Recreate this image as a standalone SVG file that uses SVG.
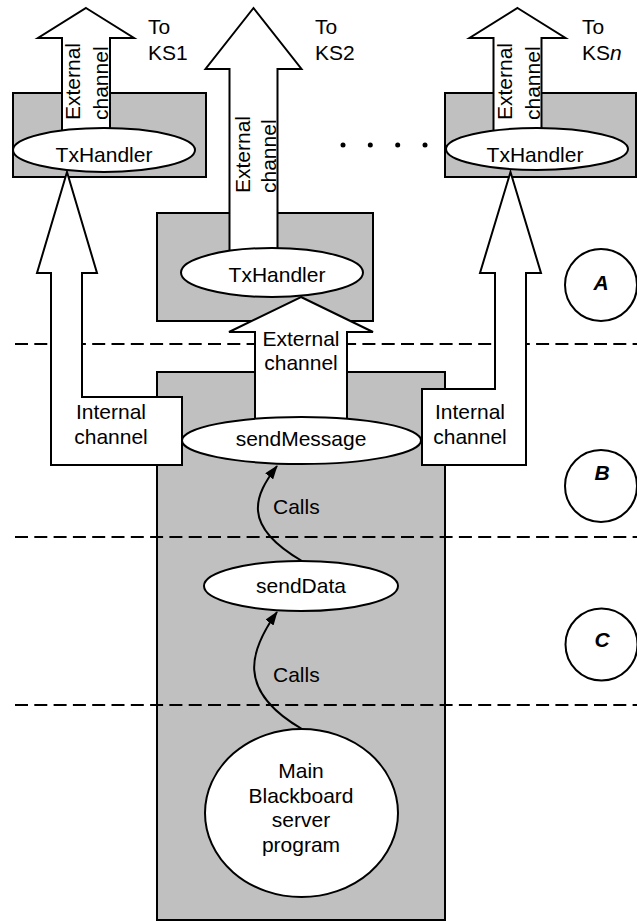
<svg xmlns="http://www.w3.org/2000/svg" width="637" height="922" viewBox="0 0 637 922">
<defs>
<style>
.host{fill:#c0c0c0;stroke:#000;stroke-width:2}
.proc{fill:#fff;stroke:#000;stroke-width:2}
.fat{fill:#fff;stroke:#000;stroke-width:2;stroke-linejoin:miter}
.sep{stroke:#000;stroke-width:2;stroke-dasharray:13 6.3;fill:none}
.call{fill:none;stroke:#000;stroke-width:2;marker-end:url(#ah)}
.zone{fill:#fff;stroke:#000;stroke-width:2}
text{font-family:"Liberation Sans",Arial,sans-serif;font-size:21px;fill:#000}
.c{text-anchor:middle}
.lbl{font-weight:bold;font-style:italic;text-anchor:middle}
</style>
<marker id="ah" viewBox="0 0 14 10" refX="13" refY="5" markerWidth="14" markerHeight="10" markerUnits="userSpaceOnUse" orient="auto"><path d="M0,0 L14,5 L0,10 z" fill="#000"/></marker>
</defs>
<rect width="637" height="922" fill="#fff"/>

<g id="bb-server-host"><rect class="host" x="157" y="372" width="288" height="548"/></g>
<g id="ks1-host"><rect class="host" x="13" y="93" width="193" height="84"/></g>
<g id="ks2-host"><rect class="host" x="157" y="213" width="216" height="108"/></g>
<g id="ksn-host"><rect class="host" x="445" y="93" width="191" height="84"/></g>

<g id="layer-separators">
<line class="sep" x1="15" y1="344" x2="637" y2="344"/>
<line class="sep" x1="15" y1="537" x2="637" y2="537"/>
<line class="sep" x1="15" y1="705" x2="637" y2="705"/>
</g>

<g id="connectors">
<g id="ext-ks1">
<polygon class="fat" points="86,8 134,38 110,38 110,140 62,140 62,38 38,38"/>
<text transform="translate(80,120) rotate(-90)">External</text>
<text transform="translate(108,120) rotate(-90)">channel</text>
</g>
<g id="ext-ks2">
<polygon class="fat" points="253.5,8 301.5,69 277.5,69 277.5,262 229.5,262 229.5,69 205.5,69"/>
<text transform="translate(250,193) rotate(-90)">External</text>
<text transform="translate(276,193) rotate(-90)">channel</text>
</g>
<g id="ext-ksn">
<polygon class="fat" points="517.5,8 565.5,38 541.5,38 541.5,140 493.5,140 493.5,38 469.5,38"/>
<text transform="translate(511.5,120) rotate(-90)">External</text>
<text transform="translate(539.5,120) rotate(-90)">channel</text>
</g>
<g id="int-ks1">
<polygon class="fat" points="67,172 97,273 82,273 82,397 182,397 182,465 51,465 51,273 37,273"/>
<text class="c" x="111" y="419">Internal</text>
<text class="c" x="111" y="444">channel</text>
</g>
<g id="int-ksn">
<polygon class="fat" points="510.5,172 541,273 526,273 526,465 422,465 422,389 495,389 495,273 480,273"/>
<text class="c" x="470" y="419">Internal</text>
<text class="c" x="470" y="444">channel</text>
</g>
<g id="ext-ks2-from-send">
<polygon class="fat" points="301,297 373,332 347,332 347,422 255,422 255,332 229,332"/>
<text class="c" x="301" y="346">External</text>
<text class="c" x="301" y="370">channel</text>
</g>
<g id="call-senddata-sendmessage">
<path class="call" d="M302,561 C240,525 255,495 277,466"/>
<text x="273" y="514">Calls</text>
</g>
<g id="call-main-senddata">
<path class="call" d="M302,729 C235,690 250,650 277,612"/>
<text x="273" y="682">Calls</text>
</g>
</g>

<g id="ks1-txhandler"><ellipse class="proc" cx="104" cy="150" rx="91" ry="22"/><text class="c" x="104" y="162">TxHandler</text></g>
<g id="ks2-txhandler"><ellipse class="proc" cx="272" cy="272.5" rx="91" ry="24.5"/><text class="c" x="277" y="282">TxHandler</text></g>
<g id="ksn-txhandler"><ellipse class="proc" cx="537" cy="149" rx="91" ry="21"/><text class="c" x="535" y="162">TxHandler</text></g>
<g id="sendmessage"><ellipse class="proc" cx="301.5" cy="440.5" rx="119.5" ry="23.5"/><text class="c" x="301" y="446">sendMessage</text></g>
<g id="senddata"><ellipse class="proc" cx="301" cy="586" rx="97" ry="25"/><text class="c" x="301" y="593">sendData</text></g>
<g id="main-program"><ellipse class="proc" cx="301.5" cy="813" rx="96.5" ry="84"/>
<text class="c" x="301" y="778">Main</text>
<text class="c" x="301" y="802.5">Blackboard</text>
<text class="c" x="301" y="827">server</text>
<text class="c" x="301" y="851.5">program</text>
</g>

<g id="dest-ks1"><text x="148" y="34">To</text><text x="148" y="60">KS1</text></g>
<g id="dest-ks2"><text x="315" y="34">To</text><text x="315" y="60">KS2</text></g>
<g id="dest-ksn"><text x="582" y="34">To</text><text x="582" y="60">KS<tspan font-style="italic">n</tspan></text></g>

<g id="ellipsis">
<circle cx="343" cy="145" r="2.5"/><circle cx="370.3" cy="145" r="2.5"/><circle cx="397.7" cy="145" r="2.5"/><circle cx="425" cy="145" r="2.5"/>
</g>

<g id="zone-a"><circle class="zone" cx="601" cy="285" r="36"/><text class="lbl" x="601" y="290">A</text></g>
<g id="zone-b"><circle class="zone" cx="601" cy="486" r="36"/><text class="lbl" x="602" y="480">B</text></g>
<g id="zone-c"><circle class="zone" cx="601.5" cy="644.5" r="36"/><text class="lbl" x="602" y="647">C</text></g>
</svg>
